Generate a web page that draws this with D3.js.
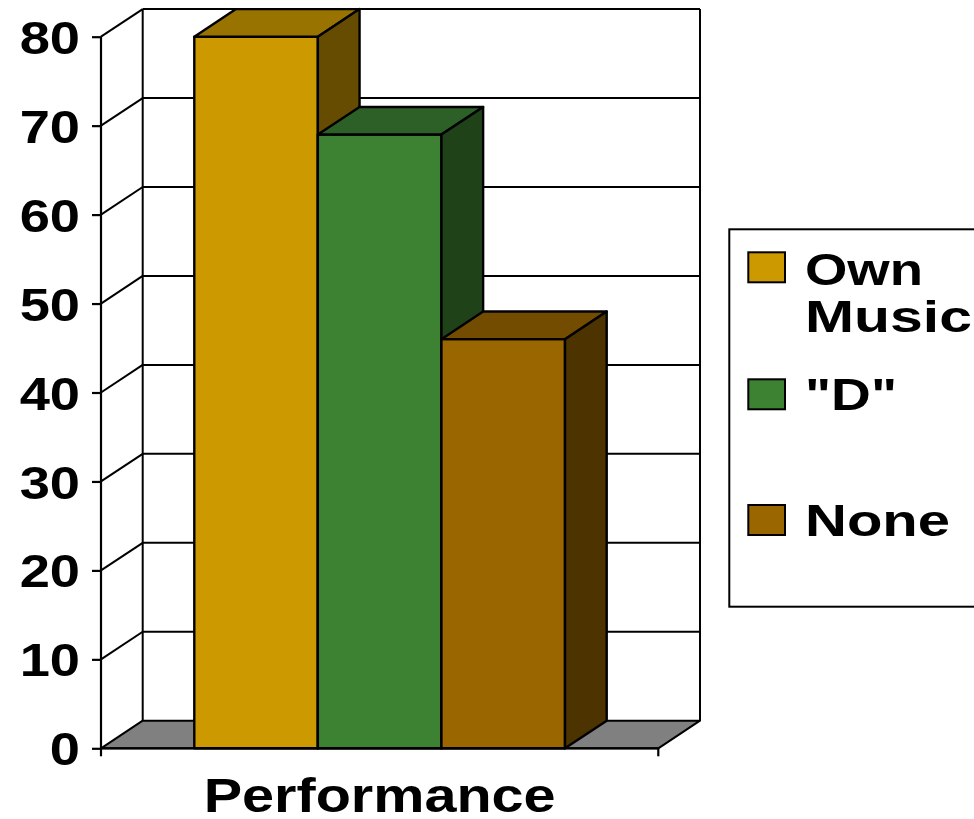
<!DOCTYPE html>
<html>
<head>
<meta charset="utf-8">
<script src="https://cdn.jsdelivr.net/npm/d3@7"></script>
<style>
html,body{margin:0;padding:0;background:#fff;}
svg{display:block;}
text{font-family:"Liberation Sans",Arial,sans-serif;font-weight:bold;fill:#000;}
</style>
</head>
<body>
<svg id="chart" width="974" height="819"></svg>
<script>
// ---- data ----
const categories = ["Performance"];
const seriesNames = ["Own Music", "\"D\"", "None"];
const seriesValues = [80, 69, 46];
const yTicks = [0, 10, 20, 30, 40, 50, 60, 70, 80];
const legendLines = [["Own", "Music"], ["\"D\""], ["None"]];

// ---- styles ----
const frontColors = ["#CC9900", "#3D8133", "#996600"];
const topColors   = ["#997300", "#2D6026", "#734C00"];
const sideColors  = ["#664C00", "#1F4219", "#4C3300"];

const svg = d3.select("#chart");
const plotLeft = 101, plotRight = 658.3;
const dx = 41.7, dy = -27.6;

const y = d3.scaleLinear().domain([0, 80]).range([748.3, 36.7]);
const xCat = d3.scaleBand().domain(categories).range([plotLeft, plotRight]).paddingInner(0).paddingOuter(0);
const xSer = d3.scaleBand().domain(seriesNames).range([0, xCat.bandwidth()]).paddingInner(0).paddingOuter(0.755);

const line = d3.line();
function stretch(sel, sx) {
  sel.each(function () {
    const len = this.getComputedTextLength();
    d3.select(this).attr("textLength", len * sx).attr("lengthAdjust", "spacingAndGlyphs");
  });
}
function fitWidth(sel, w) {
  sel.attr("textLength", w).attr("lengthAdjust", "spacingAndGlyphs");
}

// back wall gridlines
const g = svg.append("g");
yTicks.forEach(t => {
  if (t === 0) return;
  g.append("line")
    .attr("x1", plotLeft + dx).attr("x2", plotRight + dx)
    .attr("y1", y(t) + dy).attr("y2", y(t) + dy)
    .attr("stroke", "#000").attr("stroke-width", 2);
  g.append("line")
    .attr("x1", plotLeft).attr("x2", plotLeft + dx)
    .attr("y1", y(t)).attr("y2", y(t) + dy)
    .attr("stroke", "#000").attr("stroke-width", 2);
});
g.append("line").attr("x1", plotLeft + dx).attr("x2", plotLeft + dx)
  .attr("y1", y(80) + dy).attr("y2", y(0) + dy).attr("stroke", "#000").attr("stroke-width", 2);
g.append("line").attr("x1", plotRight + dx).attr("x2", plotRight + dx)
  .attr("y1", y(80) + dy).attr("y2", y(0) + dy).attr("stroke", "#000").attr("stroke-width", 2);

// floor
g.append("path")
  .attr("d", line([[plotLeft, y(0)], [plotRight, y(0)], [plotRight + dx, y(0) + dy], [plotLeft + dx, y(0) + dy]]) + "Z")
  .attr("fill", "#808080").attr("stroke", "#000").attr("stroke-width", 2).attr("stroke-linejoin", "round");

// y axis
g.append("line").attr("x1", plotLeft).attr("x2", plotLeft)
  .attr("y1", y(80)).attr("y2", y(0)).attr("stroke", "#000").attr("stroke-width", 2.2);
const yAxisG = svg.append("g").attr("transform", `translate(${plotLeft},0)`)
  .call(d3.axisLeft(y).tickValues(yTicks).tickSize(9).tickPadding(12).tickFormat(d3.format("d")));
yAxisG.select(".domain").remove();
yAxisG.selectAll(".tick line").attr("stroke", "#000").attr("stroke-width", 2.2);
yAxisG.selectAll(".tick text")
  .attr("font-family", "Liberation Sans, Arial, sans-serif")
  .attr("font-weight", "bold").attr("font-size", 46).attr("fill", "#000")
  .attr("dy", "0.36em")
  .call(stretch, 1.18);

// bars
const bars = svg.append("g");
seriesNames.forEach((s, i) => {
  const x0 = xCat(categories[0]) + xSer(s);
  const x1 = x0 + xSer.bandwidth();
  const yt = y(seriesValues[i]), yb = y(0);
  bars.append("path")
    .attr("d", line([[x0, yt], [x1, yt], [x1, yb], [x0, yb]]) + "Z")
    .attr("fill", frontColors[i]).attr("stroke", "#000").attr("stroke-width", 2.4).attr("stroke-linejoin", "round");
  bars.append("path")
    .attr("d", line([[x0, yt], [x0 + dx, yt + dy], [x1 + dx, yt + dy], [x1, yt]]) + "Z")
    .attr("fill", topColors[i]).attr("stroke", "#000").attr("stroke-width", 2.4).attr("stroke-linejoin", "round");
  bars.append("path")
    .attr("d", line([[x1, yt], [x1 + dx, yt + dy], [x1 + dx, yb + dy], [x1, yb]]) + "Z")
    .attr("fill", sideColors[i]).attr("stroke", "#000").attr("stroke-width", 2.4).attr("stroke-linejoin", "round");
});

// x axis
const xAxisG = svg.append("g").attr("transform", `translate(0,${y(0)})`);
xAxisG.append("line").attr("x1", plotLeft).attr("x2", plotRight).attr("y1", 0).attr("y2", 0)
  .attr("stroke", "#000").attr("stroke-width", 2.2);
[plotLeft, plotRight].forEach(xx => {
  xAxisG.append("line").attr("x1", xx).attr("x2", xx).attr("y1", 0).attr("y2", 8)
    .attr("stroke", "#000").attr("stroke-width", 2.2);
});
xAxisG.selectAll("text.cat").data(categories).join("text").attr("class", "cat")
  .attr("x", d => xCat(d) + xCat.bandwidth() / 2).attr("y", 64)
  .attr("text-anchor", "middle").attr("font-size", 48)
  .text(d => d)
  .call(fitWidth, 352);

// legend
const leg = svg.append("g");
leg.append("rect").attr("x", 729.3).attr("y", 229.3).attr("width", 300).attr("height", 377.4)
  .attr("fill", "#fff").attr("stroke", "#000").attr("stroke-width", 2);
const swatchY = [252.3, 379.3, 505];
const baseY = [[285, 331.7], [410], [536]];
const legWidths = [[118, 167], [92], [145]];
seriesNames.forEach((s, i) => {
  leg.append("rect").attr("x", 748.3).attr("y", swatchY[i]).attr("width", 36.7).attr("height", 30)
    .attr("fill", frontColors[i]).attr("stroke", "#000").attr("stroke-width", 2);
  legendLines[i].forEach((txt, j) => {
    leg.append("text").attr("x", 805).attr("y", baseY[i][j]).attr("font-size", 44).text(txt)
      .call(fitWidth, legWidths[i][j]);
  });
});
</script>
</body>
</html>
